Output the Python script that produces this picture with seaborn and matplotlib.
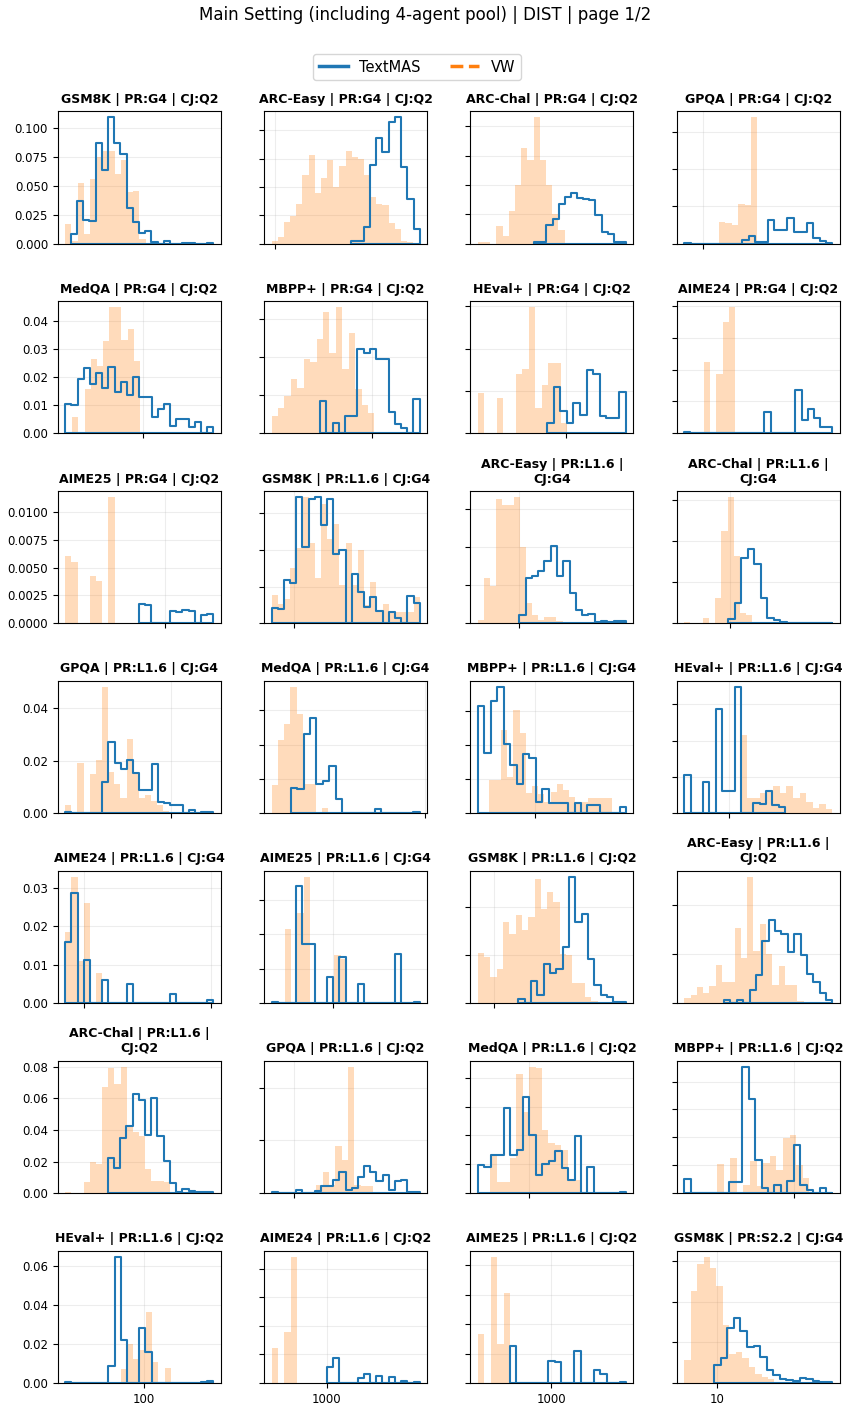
import textwrap
import numpy as np
import pandas as pd
import matplotlib
matplotlib.use("Agg")
import matplotlib.pyplot as plt
import seaborn as sns
from matplotlib.lines import Line2D
from matplotlib.ticker import NullLocator, FuncFormatter

plt.rcParams["font.family"] = ["DejaVu Sans"]

SUPTITLE = "Main Setting (including 4-agent pool) | DIST | page 1/2"
SERIES = ["TextMAS", "VW"]

TITLES = [
    "GSM8K | PR:G4 | CJ:Q2", "ARC-Easy | PR:G4 | CJ:Q2", "ARC-Chal | PR:G4 | CJ:Q2", "GPQA | PR:G4 | CJ:Q2",
    "MedQA | PR:G4 | CJ:Q2", "MBPP+ | PR:G4 | CJ:Q2", "HEval+ | PR:G4 | CJ:Q2", "AIME24 | PR:G4 | CJ:Q2",
    "AIME25 | PR:G4 | CJ:Q2", "GSM8K | PR:L1.6 | CJ:G4", "ARC-Easy | PR:L1.6 | CJ:G4", "ARC-Chal | PR:L1.6 | CJ:G4",
    "GPQA | PR:L1.6 | CJ:G4", "MedQA | PR:L1.6 | CJ:G4", "MBPP+ | PR:L1.6 | CJ:G4", "HEval+ | PR:L1.6 | CJ:G4",
    "AIME24 | PR:L1.6 | CJ:G4", "AIME25 | PR:L1.6 | CJ:G4", "GSM8K | PR:L1.6 | CJ:Q2", "ARC-Easy | PR:L1.6 | CJ:Q2",
    "ARC-Chal | PR:L1.6 | CJ:Q2", "GPQA | PR:L1.6 | CJ:Q2", "MedQA | PR:L1.6 | CJ:Q2", "MBPP+ | PR:L1.6 | CJ:Q2",
    "HEval+ | PR:L1.6 | CJ:Q2", "AIME24 | PR:L1.6 | CJ:Q2", "AIME25 | PR:L1.6 | CJ:Q2", "GSM8K | PR:S2.2 | CJ:G4",
]

# bin range of each histogram, in log10 of the measured quantity
TM_RANGE = [
    (1.325, 1.950), (2.465, 2.880), (2.366, 2.800), (2.886, 3.786),
    (1.528, 2.428), (2.683, 3.288), (2.884, 3.363), (3.050, 3.900),
    (2.841, 3.293), (1.865, 2.765), (2.000, 2.648), (1.990, 2.624),
    (2.357, 3.257), (2.183, 2.967), (2.653, 3.553), (2.728, 3.339),
    (2.849, 4.022), (2.627, 3.527), (2.148, 2.802), (2.265, 2.850),
    (2.280, 2.850), (2.864, 3.764), (2.690, 3.590), (2.333, 3.233),
    (1.522, 2.422), (3.000, 3.566), (2.746, 3.453), (0.983, 1.701),
]
VW_RANGE = [
    (1.300, 1.653), (1.980, 2.841), (2.100, 2.510), (3.095, 3.331),
    (1.571, 1.981), (2.388, 3.013), (2.463, 3.004), (3.162, 3.343),
    (2.393, 2.693), (1.865, 2.765), (1.748, 2.262), (1.724, 2.213),
    (2.357, 2.990), (2.067, 2.411), (2.719, 3.470), (3.070, 3.628),
    (2.849, 3.142), (2.709, 3.084), (1.902, 2.629), (2.050, 2.695),
    (2.050, 2.614), (3.135, 3.483), (2.766, 3.314), (2.533, 3.093),
    (1.858, 2.165), (2.666, 2.820), (2.553, 2.748), (0.801, 1.349),
]

TM_DENS = [
    [0.0082, 0.0368, 0.0204, 0.019, 0.0864, 0.0636, 0.1088, 0.0864, 0.0773, 0.0306, 0.0184, 0.0088, 0.0111, 0.0009, 0.0, 0.0023, 0.0, 0.0, 0.0006, 0.0006, 0.0, 0.0, 0.0006],
    [0.0024, 0.0024, 0.0143, 0.0696, 0.0934, 0.0806, 0.1069, 0.1113, 0.0672, 0.0397, 0.0128],
    [0.0012, 0.0012, 0.0129, 0.0169, 0.0268, 0.0319, 0.0347, 0.0308, 0.0301, 0.0296, 0.0192, 0.0081, 0.0065, 0.0012, 0.0007],
    [0.0004, 0, 0, 0, 0, 0, 0, 0, 0, 0.002, 0.004, 0.0008, 0.0008, 0.0126, 0.0072, 0.0072, 0.0135, 0.0063, 0.0063, 0.0112, 0.0027, 0.0014, 0.0005],
    [0.0106, 0.0100, 0.0195, 0.0234, 0.0178, 0.0216, 0.0162, 0.0238, 0.0148, 0.0182, 0.0138, 0.0200, 0.0130, 0.0130, 0.0060, 0.0086, 0.0106, 0.0026, 0.0050, 0.0050, 0.0024, 0.0042, 0.0000, 0.0022],
    [0.0086, 0.0, 0.0026, 0.0, 0.0046, 0.0046, 0.0222, 0.021, 0.022, 0.0196, 0.0196, 0.0057, 0.0025, 0.0013, 0.0, 0.009],
    [0.0024, 0.011, 0.0054, 0.0024, 0.0071, 0.0044, 0.0151, 0.0141, 0.004, 0.0036, 0.0036, 0.0099],
    [0.0003, 0, 0, 0, 0, 0, 0, 0, 0, 0, 0, 0, 0, 0.0068, 0, 0, 0, 0, 0.0135, 0.0042, 0.0077, 0.0047, 0.0021, 0.0021],
    [0.0017, 0.0016, 0, 0, 0, 0.0011, 0.001, 0.0012, 0.0011, 0, 0.00075, 0.00085],
    [0.0042, 0.004, 0.0118, 0.0111, 0.0344, 0.0208, 0.034, 0.0344, 0.0268, 0.034, 0.0189, 0.0199, 0.0, 0.0134, 0.0086, 0.0044, 0.0072, 0.0035, 0.0, 0.0032, 0.0014, 0.0, 0.0075, 0.0056],
    [0.0022, 0.0119, 0.0124, 0.0137, 0.0164, 0.0204, 0.0124, 0.0164, 0.008, 0.0035, 0.0022, 0.0025, 0.0003, 0.0005, 0.0003, 0.0006, 0.0006],
    [0.0021, 0.0098, 0.032, 0.0364, 0.029, 0.0123, 0.0028, 0.0016, 0.0008, 0.0004, 0.0004, 0.0004, 0.0004, 0.0004, 0.0004, 0.0004],
    [0.0005, 0, 0, 0, 0, 0, 0.0118, 0.0272, 0.0192, 0.017, 0.0201, 0.0154, 0.009, 0.009, 0.0188, 0.0042, 0.0038, 0.0032, 0.0032, 0, 0.0013, 0, 0.0006, 0.0003],
    [0.0075, 0.0072, 0.0232, 0.0277, 0.0086, 0.0093, 0.0137, 0.0042, 0, 0, 0, 0, 0, 0.0012, 0, 0, 0, 0, 0, 0.0005],
    [0.0315, 0.0177, 0.0331, 0.0371, 0.0204, 0.0143, 0.0086, 0.0174, 0.0164, 0.0032, 0.0072, 0.003, 0.003, 0.003, 0.0, 0.003, 0.0, 0.0025, 0.0025, 0.0, 0.0, 0.0, 0.0018],
    [0.0106, 0, 0, 0.0085, 0, 0.0288, 0.0062, 0.0062, 0.0347, 0, 0, 0.0028, 0.0025, 0.006, 0.0023, 0.0018],
    [0.0159, 0.0286, 0, 0.0113, 0, 0, 0.0061, 0, 0, 0, 0.0051, 0, 0, 0, 0, 0, 0, 0.0024, 0, 0, 0, 0, 0, 0.0009],
    [0.0003, 0, 0, 0, 0.0338, 0.0172, 0.0172, 0, 0, 0.0075, 0, 0.0133, 0, 0, 0.0056, 0, 0, 0, 0, 0, 0.0143, 0, 0, 0.0003],
    [0.0017, 0, 0.0094, 0.0035, 0.0164, 0.0126, 0.0143, 0.0232, 0.0524, 0.0337, 0.0372, 0.0182, 0.0074, 0.0035, 0.0024, 0.0007, 0.0004],
    [0.0014, 0, 0.0014, 0, 0.0055, 0.0114, 0.0252, 0.0338, 0.0294, 0.028, 0.0207, 0.028, 0.0197, 0.0117, 0.0087, 0.0041, 0.0014],
    [0.0222, 0.0159, 0.035, 0.0424, 0.0625, 0.0593, 0.0367, 0.0604, 0.036, 0.0201, 0.0064, 0.001, 0.0025, 0.0015, 0.0006, 0.0006, 0.0006],
    [0.0003, 0, 0, 0, 0.001, 0, 0, 0.0009, 0.0026, 0.0026, 0.0051, 0.008, 0.0013, 0.0019, 0.006, 0.0102, 0.008, 0.0047, 0.007, 0.0013, 0.0045, 0.0051, 0.0004, 0.0004],
    [0.0096, 0.0089, 0.0133, 0.0133, 0.0295, 0.0133, 0.0151, 0.0333, 0.02, 0.0064, 0.0101, 0.0112, 0.0145, 0.0087, 0.0046, 0.0197, 0, 0.0089, 0, 0, 0, 0, 0.0003],
    [0.0103, 0, 0, 0, 0, 0, 0, 0.0079, 0.0079, 0.0905, 0.0672, 0.024, 0.004, 0, 0.006, 0, 0.0089, 0.0348, 0.006, 0.0024, 0, 0.004, 0.0003],
    [0.0003, 0, 0, 0, 0, 0, 0, 0.0087, 0.0645, 0.022, 0, 0, 0.028, 0.016, 0, 0, 0, 0, 0, 0, 0, 0, 0.0005, 0.0009],
    [0.0056, 0.0089, 0, 0, 0, 0.0018, 0.0033, 0, 0.0025, 0, 0.0021, 0, 0.0008, 0, 0.0003],
    [0.0126, 0, 0, 0, 0, 0, 0.0074, 0.007, 0, 0, 0.0108, 0, 0, 0.0043, 0.003, 0, 0, 0.0003],
    [0.0088, 0.0124, 0.0273, 0.0319, 0.0256, 0.0179, 0.0183, 0.0129, 0.0063, 0.0038, 0.0018, 0.0013, 0.0008, 0.0025, 0.0018, 0.0008, 0.0005, 0.0003],
]

VW_DENS = [
    [0.0169, 0.002, 0.0525, 0.008, 0.0557, 0.075, 0.080, 0.080, 0.060, 0.072, 0.044, 0.045, 0.004],
    [0.0024, 0.0054, 0.0188, 0.0239, 0.0352, 0.0606, 0.0779, 0.0442, 0.0582, 0.074, 0.0501, 0.0687, 0.0815, 0.0761, 0.0746, 0.0606, 0.0412, 0.0352, 0.0343, 0.0182, 0.0128, 0.0024, 0.0015],
    [0.0007, 0.0007, 0.0, 0.0118, 0.0053, 0.022, 0.04, 0.0654, 0.0573, 0.0862, 0.0573, 0.04, 0.0203, 0.0095],
    [0.0117, 0.0108, 0.0099, 0.0213, 0.0207, 0.0676],
    [0.006, 0.0, 0.016, 0.0267, 0.024, 0.033, 0.045, 0.045, 0.0333, 0.0372, 0.026],
    [0.0046, 0.0066, 0.0097, 0.0143, 0.0120, 0.0194, 0.0187, 0.0247, 0.0317, 0.0211, 0.0330, 0.0169, 0.0264, 0.0115, 0.0075, 0.0053],
    [0.0095, 0, 0, 0.0083, 0, 0, 0.014, 0.0152, 0.0298, 0.0061, 0.0115, 0.0167, 0.0167, 0.0024],
    [0.0223, 0, 0.0187, 0.035, 0.0395],
    [0.006, 0.0055, 0, 0, 0.0042, 0.0038, 0, 0.0113],
    [0.0077, 0.0054, 0.0067, 0.015, 0.0206, 0.0344, 0.022, 0.0125, 0.0326, 0.0229, 0.027, 0.0104, 0.022, 0.0104, 0.0201, 0.0049, 0.0114, 0.003, 0.0054, 0.003, 0.003, 0.003, 0.003, 0.0072],
    [0.0009, 0.0119, 0.0097, 0.0327, 0.0311, 0.0311, 0.0332, 0.0202, 0.0053, 0.0022, 0.0009, 0.0018, 0.0018, 0.0006],
    [0.0005, 0.0, 0.0, 0.0025, 0.0, 0.0123, 0.045, 0.0615, 0.0328, 0.0049, 0.004, 0.0, 0.0008],
    [0.003, 0, 0.0191, 0, 0.015, 0.0201, 0.048, 0.0158, 0.0112, 0.006, 0.0282, 0.0154, 0.0058, 0.0071, 0.0045, 0.0032, 0.0009],
    [0.0083, 0.0213, 0.026, 0.0368, 0.0289, 0.0085, 0.0085, 0.0, 0.0015],
    [0.0098, 0.0098, 0.0246, 0.0108, 0.0305, 0.0236, 0.006, 0.0079, 0.0056, 0.0034, 0.0064, 0.0086, 0.0069, 0.0049, 0.0034, 0.0032, 0.0044, 0.0044, 0.0044, 0.0044],
    [0.0215, 0.0041, 0.0041, 0.0055, 0.0065, 0.0074, 0.0055, 0.0074, 0.0041, 0.0055, 0.0032, 0.0015, 0.0025, 0.0012],
    [0.0184, 0.0328, 0.011, 0.026, 0.0, 0.0079],
    [0.0214, 0, 0.026, 0.0365, 0, 0, 0, 0, 0.0139, 0.0127],
    [0.021, 0.0192, 0.0108, 0.014, 0.0337, 0.0288, 0.0365, 0.0305, 0.0358, 0.0515, 0.0393, 0.0463, 0.0421, 0.0204, 0.02, 0.0084, 0.0084, 0.0024, 0.001],
    [0.0023, 0.0034, 0.0065, 0.0041, 0.0069, 0.0154, 0.0087, 0.0087, 0.0308, 0.0183, 0.0514, 0.0211, 0.0321, 0.02, 0.0076, 0.0152, 0.0076, 0.0073, 0.001],
    [0.001, 0, 0, 0.007, 0.0197, 0.0184, 0.0672, 0.079, 0.0689, 0.0799, 0.0424, 0.0388, 0.036, 0.0155, 0.0074, 0.0074, 0.007],
    [0.0032, 0.008, 0.003, 0.0179, 0.0124, 0.0479, 0.003, 0.0026, 0.0026],
    [0.0136, 0.004, 0.004, 0.012, 0.0411, 0.028, 0.0437, 0.0435, 0.022, 0.0174, 0.0168, 0.015, 0.0046, 0.0046],
    [0.0209, 0.0, 0.0252, 0.0, 0.006, 0.0233, 0.005, 0.0216, 0.0264, 0.0168, 0.0396, 0.042, 0.02, 0.0108],
    [0.007, 0.0202, 0.0125, 0.0168, 0.0362, 0.0108, 0, 0.0077],
    [0.0123, 0, 0.018, 0.0441],
    [0.0166, 0, 0.0428, 0.0134, 0.0305],
    [0.0112, 0.0451, 0.0587, 0.0621, 0.0567, 0.0476, 0.0286, 0.0145, 0.0154, 0.0121, 0.0079, 0.0046, 0.0028, 0.0021],
]

TM_COLOR = "#1f77b4"
VW_COLOR = "#ff7f0e"

fig, axes = plt.subplots(7, 4, figsize=(8.5, 14.13), dpi=100)
fig.subplots_adjust(left=0.068, right=0.988, top=0.9214, bottom=0.0212,
                    wspace=0.266, hspace=0.434)


def draw_hist(ax, rng, dens, **kws):
    lo, hi = rng
    n = len(dens)
    width = (hi - lo) / n
    centers = 10 ** (lo + width * (np.arange(n) + 0.5))
    df = pd.DataFrame({"value": centers, "density": dens})
    sns.histplot(data=df, x="value", weights="density", bins=n, binrange=(lo, hi),
                 log_scale=True, stat="count", ax=ax, **kws)


for i, ax in enumerate(axes.flat):
    draw_hist(ax, VW_RANGE[i], VW_DENS[i], element="bars", fill=True,
              color=VW_COLOR, alpha=0.28, linewidth=0, edgecolor="none")
    draw_hist(ax, TM_RANGE[i], TM_DENS[i], element="step", fill=True,
              facecolor="none", edgecolor=TM_COLOR, color=TM_COLOR, linewidth=1.5)
    ax.set_xlabel("")
    ax.set_ylabel("")
    ax.xaxis.set_minor_locator(NullLocator())
    ax.xaxis.set_major_formatter(FuncFormatter(lambda v, _: f"{v:g}"))
    ax.tick_params(labelsize=8.5)
    ax.grid(True, alpha=0.22)
    ax.set_axisbelow(True)
    ax.set_title(textwrap.fill(TITLES[i], 24), fontsize=9, fontweight="bold")
    ax.label_outer()

handles = [Line2D([], [], color=TM_COLOR, lw=2.5, label=SERIES[0]),
           Line2D([], [], color=VW_COLOR, lw=2.5, ls="--", label=SERIES[1])]
fig.legend(handles=handles, loc="center", bbox_to_anchor=(417 / 850, 1 - 67 / 1413),
           ncol=2, fontsize=10.5, frameon=True)
fig.suptitle(SUPTITLE, fontsize=12, y=1 - 15 / 1413, va="center")

fig.savefig("out.png", dpi=100)
